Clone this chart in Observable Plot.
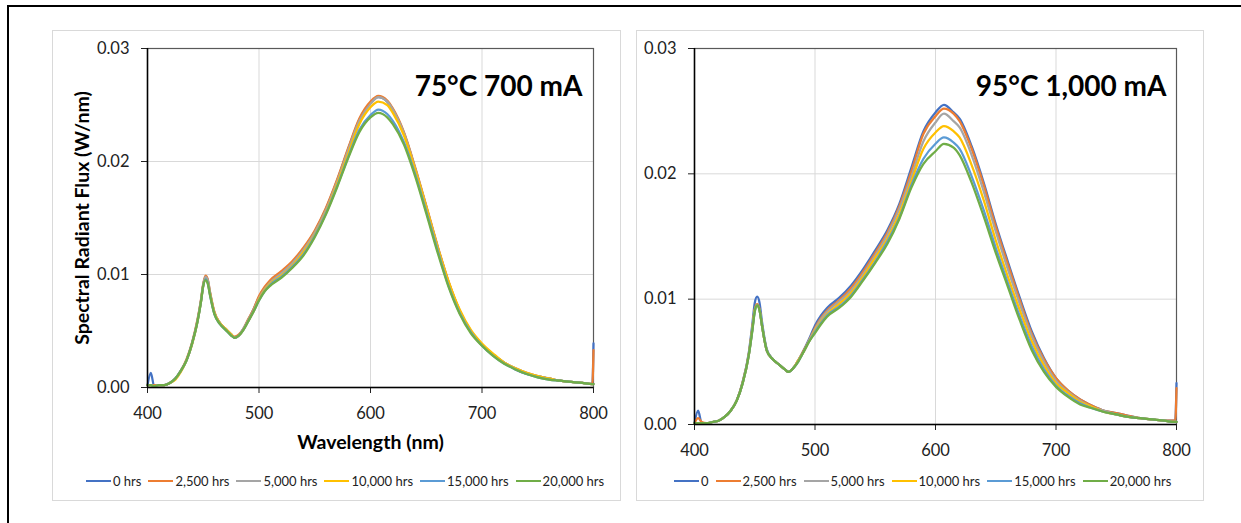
<!DOCTYPE html>
<html><head><meta charset="utf-8">
<script src="https://cdn.jsdelivr.net/npm/d3@7"></script>
<script src="https://cdn.jsdelivr.net/npm/@observablehq/plot@0.6"></script>
<style>
body{margin:0;background:#fff;font-family:Lato,"Open Sans",sans-serif;}
#root{position:relative;width:1241px;height:523px;overflow:hidden;background:#fff;}
.outer{position:absolute;left:7px;top:5px;width:1400px;height:700px;border-left:2.5px solid #000;border-top:2.5px solid #000;}
.panel{position:absolute;border:1px solid #d9d9d9;box-sizing:border-box;}
.chart{position:absolute;}
.legend{position:absolute;display:flex;align-items:center;font-size:13px;color:#222;white-space:nowrap;height:16px;}
.legend .it{display:flex;align-items:center;}
.legend .sw{display:inline-block;width:25px;height:2.5px;margin-right:2px;}
</style></head>
<body><div id="root">
<div class="outer"></div>
<div class="panel" style="left:52px;top:30px;width:569px;height:471px;"></div>
<div class="panel" style="left:636px;top:30px;width:568px;height:471px;"></div>
<div class="chart" id="c1" style="left:52px;top:30px;"></div>
<div class="chart" id="c2" style="left:636px;top:30px;"></div>
<div class="legend" id="l1" style="left:86px;top:473px;"></div>
<div class="legend" id="l2" style="left:674px;top:473px;"></div>
</div>
<script>
// Wavelengths (nm)
const wavelength = [400,403,406,410,415,420,425,430,435,440,445,448,450,452,454,456,460,465,470,475,478,482,486,490,495,500,505,510,520,530,540,550,560,570,580,590,600,607,615,620,630,640,650,660,670,680,690,700,710,720,730,740,750,760,770,780,790,799,800];

const colors = ["#4472C4","#ED7D31","#A5A5A5","#FFC000","#5B9BD5","#70AD47"];
const legend75 = ["0 hrs","2,500 hrs","5,000 hrs","10,000 hrs","15,000 hrs","20,000 hrs"];
const legend95 = ["0","2,500 hrs","5,000 hrs","10,000 hrs","15,000 hrs","20,000 hrs"];
const yTicks = [0, 0.01, 0.02, 0.03];
const xTicks = [400, 500, 600, 700, 800];

// 75°C 700 mA  (values in units of 1e-4 W/nm)
const flux75_0 = [2,13,1,2,2,4,8,15,24,39,60,77,91,98,95,84,66,57,52,47,44,46,52,59,69,80,88,94,102,111,123,138,158,183,211,237,252,257,253,246,225,194,160,125,93,68,50,38,29,22,16,12,10,8,6,5,4,3,39];
const flux75_2500 = [2,2,2,2,2,4,8,15,25,40,61,78,92,99,96,85,67,57,52,47,45,47,52,60,69,81,89,95,103,112,124,139,159,184,212,238,253,258,254,247,226,195,161,126,94,68,50,38,29,22,17,13,10,8,6,5,4,3,33];
const flux75_5000 = [2,2,1,2,2,4,8,15,24,39,60,77,91,98,95,84,66,57,52,47,44,46,52,59,68,79,87,93,101,110,122,137,157,182,210,236,251,257,253,246,225,194,160,125,93,68,50,38,29,22,17,13,10,8,6,5,4,3,3];
const flux75_10000 = [2,2,1,2,2,4,7,14,24,38,59,76,90,96,93,83,66,57,52,47,44,46,51,58,67,78,86,92,99,108,120,135,155,180,207,233,248,253,250,243,223,193,160,125,94,69,51,39,30,22,17,13,10,8,6,5,4,3,3];
const flux75_15000 = [2,2,1,2,2,4,8,15,24,39,59,76,90,96,93,82,65,56,51,46,44,46,51,58,67,77,85,91,98,107,118,134,154,178,204,228,241,246,242,236,217,189,156,122,90,66,49,37,28,21,16,12,9,7,6,5,4,3,3];
const flux75_20000 = [2,2,1,2,2,4,8,15,24,39,59,76,90,95,92,82,65,56,51,46,44,46,51,58,67,77,85,90,97,106,117,133,153,177,203,226,239,243,239,233,215,187,154,120,89,65,48,37,28,21,16,12,9,7,6,5,4,3,3];

// 95°C 1,000 mA  (values in units of 1e-4 W/nm)
const flux95_0 = [1,11,1,1,2,3,6,11,19,34,57,80,97,102,97,82,60,52,48,44,42,45,51,58,68,79,87,93,101,111,124,139,155,176,205,234,249,255,249,244,222,193,160,130,101,74,53,37,27,20,15,11,9,7,5,4,3,3,33];
const flux95_2500 = [1,5,2,1,2,3,6,11,19,34,56,77,92,96,92,79,59,52,48,44,42,45,51,58,67,77,85,91,99,109,122,137,153,174,202,232,246,252,248,242,220,191,158,128,99,72,52,37,27,20,15,11,9,7,5,4,3,3,29];
const flux95_5000 = [1,1,1,1,2,3,6,11,19,33,55,76,91,95,91,79,59,52,48,44,42,45,51,57,67,76,84,90,98,107,120,135,151,172,198,226,241,248,242,237,215,186,154,124,96,70,50,35,26,19,14,11,8,6,5,4,3,2,2];
const flux95_10000 = [1,1,1,1,2,3,6,11,19,33,55,76,91,95,91,79,59,52,48,44,42,45,51,57,66,75,82,88,96,105,118,133,148,168,194,220,233,238,234,229,207,179,147,118,91,66,47,33,25,18,14,10,8,6,5,4,3,2,2];
const flux95_15000 = [1,1,1,1,2,3,6,11,19,33,55,75,90,95,91,79,59,52,48,44,42,45,50,57,66,74,81,87,94,103,116,130,146,165,191,212,224,229,225,220,198,171,141,113,86,62,44,31,23,17,13,10,8,6,5,4,3,2,2];
const flux95_20000 = [1,1,1,1,2,3,6,11,19,33,55,75,90,95,91,79,59,52,48,44,42,45,50,57,66,73,80,86,93,102,115,129,144,164,189,208,218,224,221,215,193,166,137,110,83,59,42,30,22,16,13,10,8,6,5,4,3,2,2];

function tidy(names, arrays) {
  const rows = [];
  arrays.forEach((arr, i) => {
    arr.forEach((v, j) => rows.push({wl: wavelength[j], v: v * 1e-4, s: names[i]}));
  });
  return rows;
}

const data75 = tidy(legend75, [flux75_0, flux75_2500, flux75_5000, flux75_10000, flux75_15000, flux75_20000]);
const data95 = tidy(legend95, [flux95_0, flux95_2500, flux95_5000, flux95_10000, flux95_15000, flux95_20000]);

function makeChart(data, names, opts) {
  const marks = [
    Plot.gridX(xTicks.slice(1, -1), {stroke: "#d9d9d9", strokeOpacity: 1}),
    Plot.gridY(yTicks.slice(1, -1), {stroke: "#d9d9d9", strokeOpacity: 1}),
    Plot.frame({stroke: "#595959", strokeWidth: 1.2}),
    Plot.axisY({ticks: yTicks, tickFormat: d3.format(".2f"), tickSize: 6, tickPadding: 12, label: null, fontSize: 16.5}),
    Plot.axisX({ticks: xTicks, tickFormat: d3.format("d"), tickSize: 6, tickPadding: 14, label: null, fontSize: 16.5}),
    Plot.line(data, {x: "wl", y: "v", z: "s", stroke: "s", strokeWidth: 2.25, curve: "monotone-x"}),
    Plot.ruleX([400], {stroke: "#000", strokeWidth: 1.5}),
    Plot.ruleY([0], {stroke: "#000", strokeWidth: 1.5}),
    Plot.text([opts.title], {frameAnchor: "top-right", dx: opts.titleDx, dy: 39, textAnchor: "end", lineAnchor: "middle", fontSize: 28, fontWeight: "bold", fill: "#000"})
  ];
  if (opts.ylabel) marks.push(Plot.text([opts.ylabel], {frameAnchor: "left", dx: -65, rotate: -90, textAnchor: "middle", lineAnchor: "middle", fontSize: 19.5, fontWeight: "bold", fill: "#000"}));
  if (opts.xlabel) marks.push(Plot.text([opts.xlabel], {frameAnchor: "bottom", dy: 55, textAnchor: "middle", lineAnchor: "middle", fontSize: 19.5, fontWeight: "bold", fill: "#000"}));
  return Plot.plot({
    width: opts.width, height: opts.height,
    marginLeft: opts.ml, marginRight: 27, marginTop: 18, marginBottom: opts.mb,
    x: {domain: [400, 800], axis: null},
    y: {domain: [0, 0.03], axis: null},
    color: {domain: names, range: colors},
    style: {fontFamily: "Lato, 'Open Sans', sans-serif", fontSize: "16px", color: "#222", background: "transparent", overflow: "visible"},
    marks
  });
}

document.getElementById("c1").append(makeChart(data75, legend75, {
  width: 568, height: 425, ml: 95, mb: 68, title: "75°C 700 mA", titleDx: -11,
  ylabel: "Spectral Radiant Flux (W/nm)", xlabel: "Wavelength (nm)"
}));
document.getElementById("c2").append(makeChart(data95, legend95, {
  width: 567, height: 434, ml: 58, mb: 40, title: "95°C 1,000 mA", titleDx: -10
}));

function legend(el, names) {
  names.forEach((n, i) => {
    const it = document.createElement("div");
    it.className = "it";
    it.style.marginRight = "7px";
    const sw = document.createElement("span");
    sw.className = "sw";
    sw.style.background = colors[i];
    const t = document.createElement("span");
    t.textContent = n;
    it.append(sw, t);
    el.append(it);
  });
}
legend(document.getElementById("l1"), legend75);
legend(document.getElementById("l2"), legend95);
</script>
</body></html>
